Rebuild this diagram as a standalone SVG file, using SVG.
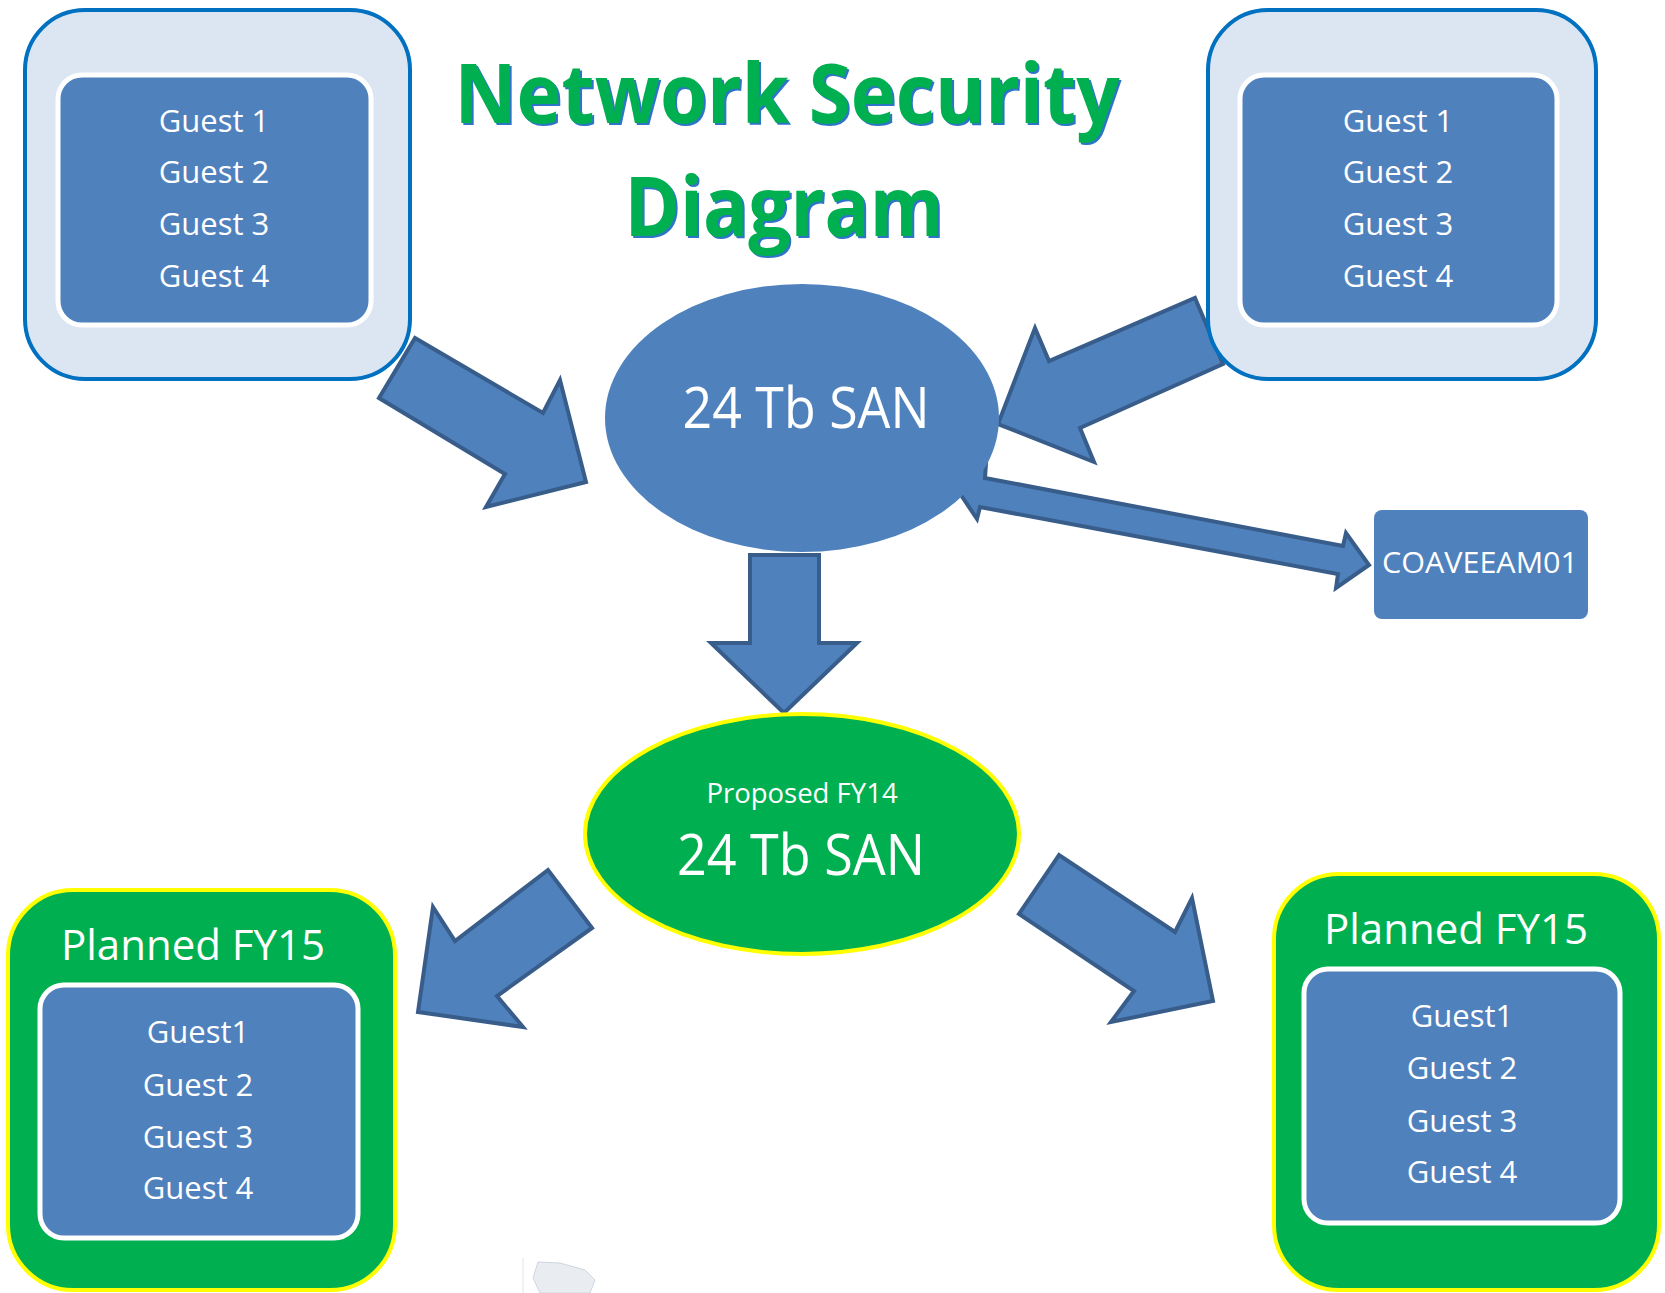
<svg xmlns="http://www.w3.org/2000/svg" width="1665" height="1293" viewBox="0 0 1665 1293">
<style>
.t{font-family:"Open Sans","Noto Sans","Liberation Sans",sans-serif;fill:#ffffff;text-anchor:middle}
.g{font-size:31px}
.p{font-size:42px}
.outerBlue{fill:#dce6f2;stroke:#0070c0;stroke-width:4}
.outerGreen{fill:#00b050;stroke:#ffff00;stroke-width:4}
.inner{fill:#4f81bd;stroke:#ffffff;stroke-width:5}
.arrow{fill:#4f81bd;stroke:#385d8a;stroke-width:4;stroke-linejoin:miter}
.title{font-family:"Open Sans","Noto Sans","Liberation Sans",sans-serif;font-weight:bold;font-size:82px;text-anchor:middle}
</style>
<rect width="1665" height="1293" fill="#ffffff"/>

<g id="title">
<text class="title" x="789" y="125" fill="#2e75c8" textLength="665" lengthAdjust="spacingAndGlyphs">Network Security</text>
<text class="title" x="787" y="123" fill="#00b050" textLength="665" lengthAdjust="spacingAndGlyphs">Network Security</text>
<text class="title" x="786" y="238" fill="#2e75c8" textLength="319" lengthAdjust="spacingAndGlyphs">Diagram</text>
<text class="title" x="784" y="236" fill="#00b050" textLength="319" lengthAdjust="spacingAndGlyphs">Diagram</text>
</g>

<g id="connectors">
<polygon class="arrow" points="415,338 379,398 505,474 486,507 586,482 560,380 543,413"/>
<polygon class="arrow" points="1195,298 1223,364 1080,428 1094,462 998,424 1035,328 1049,361"/>
<polygon class="arrow" points="955,486 986,463 985,478 1343,546 1346,533 1369,565 1336,588 1338,574 980,507 977,519"/>
<polygon class="arrow" points="750,555 819,555 819,643 857,643 784,713 711,643 750,643"/>
<polygon class="arrow" points="592,928 548,870 455,941 433,907 418,1012 523,1027 497,996"/>
<polygon class="arrow" points="1059,855 1019,914 1134,991 1111,1022 1213,1001 1192,898 1175,932"/>
</g>

<g id="host-top-left">
<rect class="outerBlue" x="25" y="10" width="385" height="369" rx="60"/>
<rect class="inner" x="58" y="75" width="313" height="250" rx="24"/>
<text class="t g" x="214" y="132">Guest 1</text>
<text class="t g" x="214" y="183">Guest 2</text>
<text class="t g" x="214" y="235">Guest 3</text>
<text class="t g" x="214" y="287">Guest 4</text>
</g>

<g id="host-top-right">
<rect class="outerBlue" x="1208" y="10" width="388" height="369" rx="60"/>
<rect class="inner" x="1240" y="75" width="317" height="250" rx="24"/>
<text class="t g" x="1398" y="132">Guest 1</text>
<text class="t g" x="1398" y="183">Guest 2</text>
<text class="t g" x="1398" y="235">Guest 3</text>
<text class="t g" x="1398" y="287">Guest 4</text>
</g>

<g id="san-current">
<ellipse cx="802" cy="418" rx="197" ry="134" fill="#4f81bd"/>
<text class="t" x="806" y="428" font-size="56" textLength="247" lengthAdjust="spacingAndGlyphs">24 Tb SAN</text>
</g>

<g id="coaveeam01">
<rect x="1374" y="510" width="214" height="109" rx="8" fill="#4f81bd"/>
<text class="t" x="1480" y="573" font-size="29" textLength="196" lengthAdjust="spacingAndGlyphs">COAVEEAM01</text>
</g>

<g id="san-proposed">
<ellipse cx="802" cy="834" rx="217" ry="120" fill="#00b050" stroke="#ffff00" stroke-width="4"/>
<text class="t" x="802" y="803" font-size="27.5">Proposed FY14</text>
<text class="t" x="801" y="875" font-size="56" textLength="248" lengthAdjust="spacingAndGlyphs">24 Tb SAN</text>
</g>

<g id="planned-left">
<rect class="outerGreen" x="8" y="890" width="387" height="400" rx="65"/>
<text class="t p" x="193" y="960">Planned FY15</text>
<rect class="inner" x="40" y="985" width="318" height="253" rx="24"/>
<text class="t g" x="198" y="1043">Guest1</text>
<text class="t g" x="198" y="1096">Guest 2</text>
<text class="t g" x="198" y="1148">Guest 3</text>
<text class="t g" x="198" y="1199">Guest 4</text>
</g>

<g id="planned-right">
<rect class="outerGreen" x="1274" y="874" width="385" height="416" rx="65"/>
<text class="t p" x="1456" y="944">Planned FY15</text>
<rect class="inner" x="1304" y="969" width="316" height="254" rx="24"/>
<text class="t g" x="1462" y="1027">Guest1</text>
<text class="t g" x="1462" y="1079">Guest 2</text>
<text class="t g" x="1462" y="1132">Guest 3</text>
<text class="t g" x="1462" y="1183">Guest 4</text>
</g>

<g id="thumbnail">
<line x1="523" y1="1258" x2="523" y2="1293" stroke="#e4e4e4" stroke-width="1"/>
<polygon points="538,1262 560,1263 585,1270 595,1280 590,1293 540,1293 533,1278" fill="#e9edf2" stroke="#cfd6de" stroke-width="1"/>
</g>
</svg>
